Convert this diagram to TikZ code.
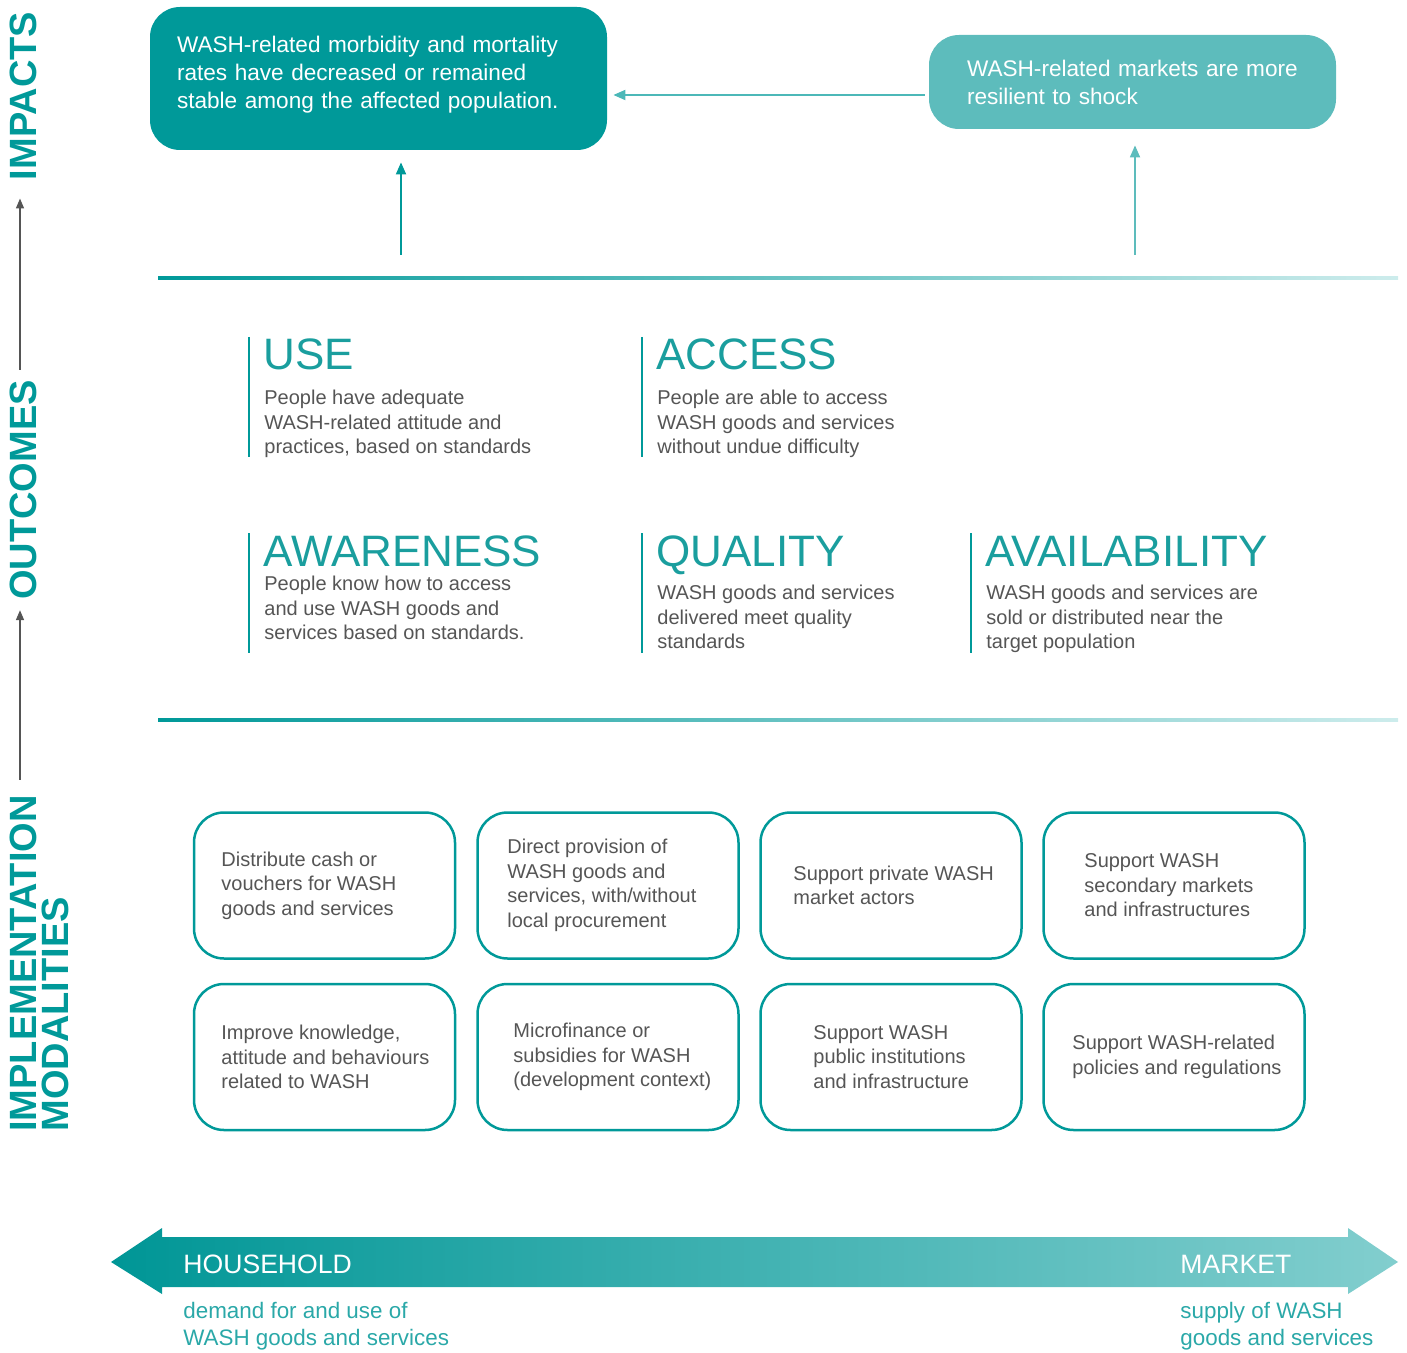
\documentclass[tikz,border=0pt]{standalone}
\usepackage{fontspec}
\setmainfont{Liberation Sans}
\usetikzlibrary{arrows.meta}
\definecolor{washteal}{RGB}{0,153,153}
\definecolor{washlight}{RGB}{93,188,188}
\definecolor{washpale}{RGB}{205,236,236}
\definecolor{washgrey}{RGB}{85,85,85}
\definecolor{washhead}{RGB}{26,158,158}
\definecolor{washsub}{RGB}{42,168,168}
\tikzset{
  sidelabel/.style={rotate=90, text=washteal, inner sep=0pt, align=left,
    font=\fontsize{19}{16}\selectfont\bfseries},
  sidearrow/.style={draw=washgrey, line width=0.75pt, -{Triangle[length=5pt,width=4pt]}},
  impbox/.style={rounded corners=15pt, text=white, align=left, inner sep=0pt,
    font=\fontsize{11.3}{14}\selectfont},
  impline/.style={line width=0.9pt, -{Triangle[length=6pt,width=5pt]}},
  outbar/.style={draw=washteal, line width=1pt},
  outhead/.style={anchor=base west, inner sep=0pt, text=washhead,
    font=\fontsize{22}{24}\selectfont},
  outbody/.style={anchor=north west, inner sep=0pt, align=left, text=washgrey,
    font=\fontsize{10}{12.25}\selectfont},
  modbox/.style={draw=washteal, line width=1.25pt, rounded corners=15pt,
    minimum width=130.5pt, minimum height=73pt},
  modtext/.style={anchor=west, inner sep=0pt, align=left, text=washgrey,
    font=\fontsize{10}{12.25}\selectfont},
  endlabel/.style={anchor=base west, inner sep=0pt, text=white,
    font=\fontsize{13.3}{16}\selectfont},
  endsub/.style={anchor=north west, inner sep=0pt, align=left, text=washsub,
    font=\fontsize{11.2}{13.5}\selectfont},
}

\begin{document}
\begin{tikzpicture}[x=0.5pt, y=-0.5pt]
    \useasboundingbox (0,0) rectangle (1407,1353);
    % side labels
    \node[sidelabel] (imp) at (23,96) {IMPACTS};
    \node[sidelabel] (outc) at (23,490) {OUTCOMES};
    \node[sidelabel, anchor=north west] (impl) at (10,1132) {IMPLEMENTATION\\MODALITIES};
    \draw[sidearrow, shorten <=5pt, shorten >=9pt] ([xshift=-1.5pt]outc.east) -- ([xshift=-1.5pt]imp.west);
    \draw[sidearrow, shorten <=7.5pt, shorten >=5pt] ([xshift=-1.5pt]outc.west |- impl.east) -- ([xshift=-1.5pt]outc.west);

    % impacts
    \node[impbox, fill=washteal, minimum width=228.5pt, minimum height=71.5pt, text width=201.5pt]
        (mort) at (378.5,78.5) {WASH-related morbidity and mortality\\rates have decreased or remained\\stable among the affected population.\vspace{4pt}};
    \node[impbox, fill=washlight, minimum width=203.5pt, minimum height=47pt, text width=165.5pt]
        (mkt) at (1132.5,82) {WASH-related markets are more\\resilient to shock};
    \draw[impline, draw=washteal!70, fill=washteal, shorten <=2pt, shorten >=3pt]
        ([yshift=-6.5pt]mkt.west) -- ([yshift=-6.5pt]mkt.west -| mort.east);
    \coordinate (mort-up) at (401,255);
    \coordinate (mkt-up) at (1135,255);
    \draw[impline, draw=washteal, fill=washteal, shorten >=6pt] (mort-up) -- (mort-up |- mort.south);
    \draw[impline, draw=washlight, fill=washlight, shorten >=8pt] (mkt-up) -- (mkt-up |- mkt.south);

    % separators
    \shade[left color=washteal, right color=washpale] (158,277) rectangle (1398,280);
    \shade[left color=washteal, right color=washpale] (158,718) rectangle (1398,721);

    % outcomes
    \foreach \nm/\x/\y/\by/\hd/\bd in {
        use/249/337/53/USE/{People have adequate\\WASH-related attitude and\\practices, based on standards},
        access/642/337/53/ACCESS/{People are able to access\\WASH goods and services\\without undue difficulty},
        aware/249/533/43/AWARENESS/{People know how to access\\and use WASH goods and\\services based on standards.},
        quality/642/533/52/QUALITY/{WASH goods and services\\delivered meet quality\\standards},
        avail/971/533/52/AVAILABILITY/{WASH goods and services are\\sold or distributed near the\\target population}}{
        \draw[outbar] (\x,\y) -- (\x,\y+120);
        \node[outhead] (\nm) at (\x+14,\y+33) {\hd};
        \node[outbody] (\nm-txt) at (\x+15,\y+\by) {\bd};
    }

    % implementation modalities
    \foreach \nm/\cx/\cy/\tx/\txt in {
        cash/324.5/885.5/221/{Distribute cash or\\vouchers for WASH\\goods and services},
        direct/608/885.5/507/{Direct provision of\\WASH goods and\\services, with/without\\local procurement},
        private/891/885.5/793/{Support private WASH\\market actors},
        second/1174/885.5/1084/{Support WASH\\secondary markets\\and infrastructures},
        know/324.5/1057/221/{Improve knowledge,\\attitude and behaviours\\related to WASH},
        micro/608/1057/513/{Microfinance or\\subsidies for WASH\\(development context)},
        public/891/1057/813/{Support WASH\\public institutions\\and infrastructure},
        policy/1174/1057/1072/{Support WASH-related\\policies and regulations}}{
        \node[modbox] (\nm) at (\cx,\cy) {};
        \node[modtext] (\nm-txt) at (\tx,\cy) {\txt};
    }

    % household -- market
    \shade[left color={rgb,255:red,0;green,150;blue,150}, right color={rgb,255:red,130;green,206;blue,206}]
        (111,1262) -- (162,1228) -- (162,1237) -- (1348,1237) -- (1348,1228) -- (1398,1262)
        -- (1348,1294) -- (1348,1287) -- (162,1287) -- (162,1294) -- cycle;
    \node[endlabel] (hh) at (183,1273) {HOUSEHOLD};
    \node[endlabel] (mk) at (1180,1273) {MARKET};
    \node[endsub] (hh-txt) at (183,1302) {demand for and use of\\WASH goods and services};
    \node[endsub] (mk-txt) at (1180,1302) {supply of WASH\\goods and services};
\end{tikzpicture}
\end{document}
